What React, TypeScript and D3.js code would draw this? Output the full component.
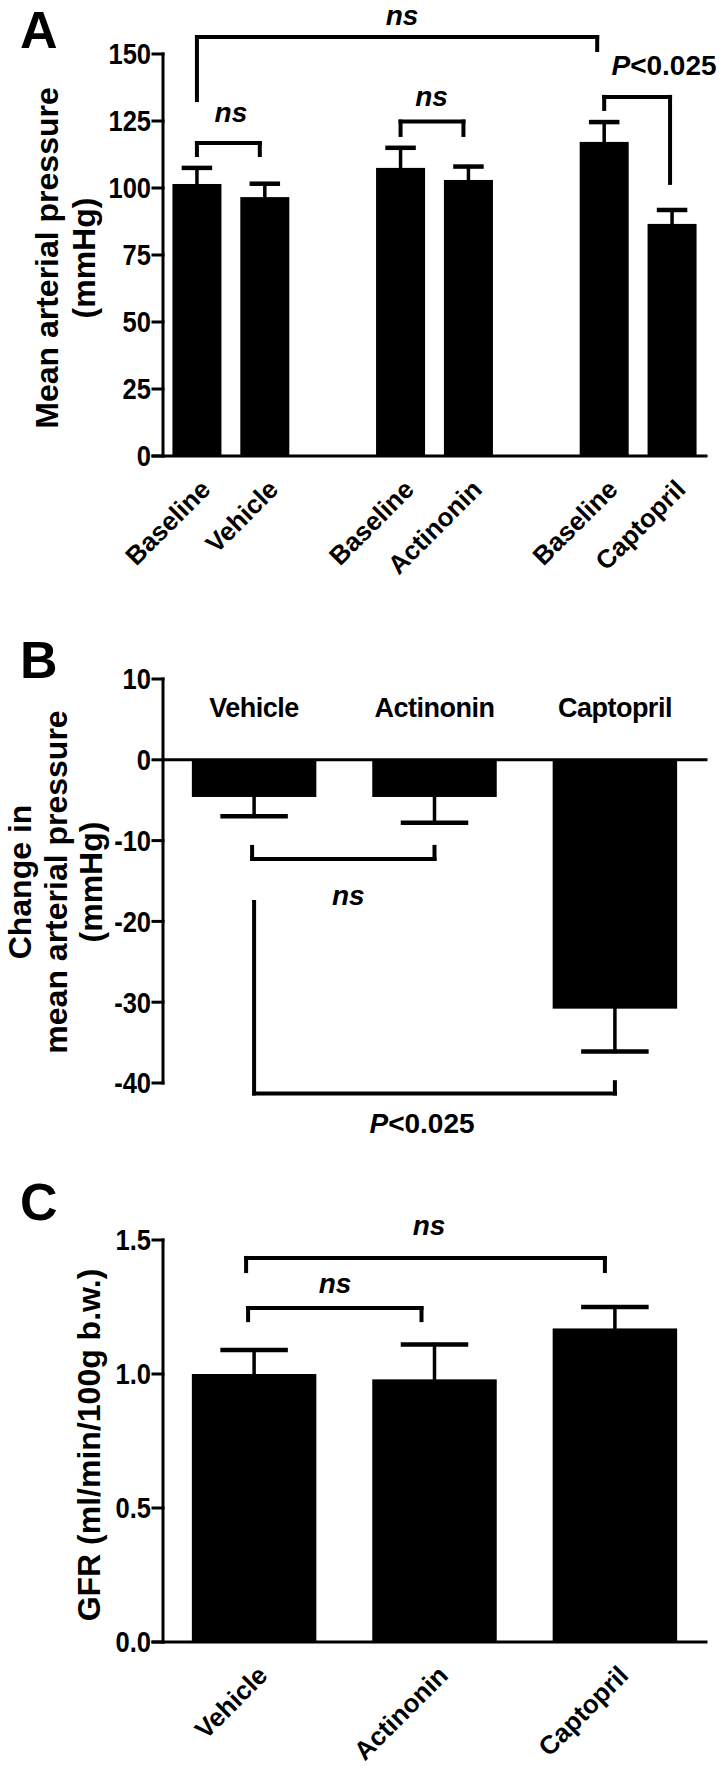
import React, { useEffect, useRef } from 'react';
import * as d3 from 'd3';

// Panel A - mean arterial pressure before / after treatment
const labelsA = ['Baseline', 'Vehicle', 'Baseline', 'Actinonin', 'Baseline', 'Captopril'];
const slotsA = [0, 1, 3, 4, 6, 7];
const meanA = [101.5, 96.6, 107.5, 103, 117.2, 86.6];
const semA = [6, 5, 7.5, 5, 7.4, 5.2];
const ticksA = [0, 25, 50, 75, 100, 125, 150];

// Panel B - change in mean arterial pressure
const labelsB = ['Vehicle', 'Actinonin', 'Captopril'];
const meanB = [-4.6, -4.6, -30.8];
const semB = [2.4, 3.2, 5.3];
const ticksB = [10, 0, -10, -20, -30, -40];

// Panel C - GFR
const labelsC = ['Vehicle', 'Actinonin', 'Captopril'];
const meanC = [1.0, 0.98, 1.17];
const semC = [0.09, 0.13, 0.08];
const ticksC = [0, 0.5, 1.0, 1.5];

const FONT = '"Liberation Sans", Arial, sans-serif';

const App = () => {
    const svgRef = useRef<SVGSVGElement | null>(null);

    useEffect(() => {
        const width = 720;
        const height = 1772;
        const left = 163;
        const right = 706;

        const svg = d3.select(svgRef.current);
        svg.selectAll('*').remove();
        svg.attr('width', width).attr('height', height);

        const line = (g, x1, y1, x2, y2, sw = 3.5) => {
            g.append('line')
                .attr('x1', x1).attr('y1', y1).attr('x2', x2).attr('y2', y2)
                .attr('stroke', '#000').attr('stroke-width', sw)
                .attr('stroke-linecap', 'square');
        };

        const yAxis = (y, ticks, fmt) => {
            const g = svg.append('g');
            line(g, left, y(ticks[0]), left, y(ticks[ticks.length - 1]), 3);
            ticks.forEach(t => {
                line(g, left - 10, y(t), left, y(t), 3);
                // narrow bold digits, like the original figure
                g.append('text')
                    .attr('transform', `translate(${left - 12}, ${y(t)}) scale(0.88, 1)`)
                    .attr('dy', '0.36em')
                    .attr('text-anchor', 'end')
                    .style('font-family', FONT)
                    .style('font-weight', 'bold')
                    .style('font-size', '29px')
                    .text(fmt(t));
            });
        };

        const yTitle = (lines, xs, yc) => {
            lines.forEach((s, i) => {
                svg.append('text')
                    .attr('transform', `translate(${xs[i]}, ${yc}) rotate(-90)`)
                    .attr('text-anchor', 'middle')
                    .attr('dominant-baseline', 'central')
                    .style('font-family', FONT)
                    .style('font-weight', 'bold')
                    .style('font-size', '32px')
                    .text(s);
            });
        };

        const panelLetter = (s, y) => {
            svg.append('text')
                .attr('x', 20).attr('y', y)
                .style('font-family', FONT)
                .style('font-weight', 'bold')
                .style('font-size', '52px')
                .text(s);
        };

        const sig = (x, y, txt, italicAll = true) => {
            const t = svg.append('text')
                .attr('x', x).attr('y', y)
                .attr('text-anchor', 'middle')
                .style('font-family', FONT)
                .style('font-weight', 'bold')
                .style('font-size', '28px');
            if (italicAll) {
                t.style('font-style', 'italic').text(txt);
            } else {
                t.append('tspan').style('font-style', 'italic').text('P');
                t.append('tspan').text(txt);
            }
        };

        const bracket = (x1, x2, yH, y1, y2) => {
            const g = svg.append('g');
            line(g, x1, yH, x2, yH, 4);
            line(g, x1, yH, x1, y1, 4);
            line(g, x2, yH, x2, y2, 4);
        };

        const errBar = (cx, yFrom, yTo, cap) => {
            line(svg, cx, yFrom, cx, yTo, 3.5);
            line(svg, cx - cap / 2, yTo, cx + cap / 2, yTo, 4.5);
        };

        const rotLabels = (xs, labels, yAxisPos) => {
            labels.forEach((s, i) => {
                svg.append('text')
                    .attr('transform', `translate(${xs[i] + 15}, ${yAxisPos + 35}) rotate(-45)`)
                    .attr('text-anchor', 'end')
                    .style('font-family', FONT)
                    .style('font-weight', 'bold')
                    .style('font-size', '26px')
                    .text(s);
            });
        };

        // ---------- Panel A ----------
        const yA = d3.scaleLinear().domain([0, 150]).range([456, 54]);
        const xA = d3.scaleLinear().domain([-0.5, 7.5]).range([left, right]);
        const bwA = 49;

        panelLetter('A', 48);
        yTitle(['Mean arterial pressure', '(mmHg)'], [47, 84], 258);

        meanA.forEach((v, i) => {
            const cx = xA(slotsA[i]);
            errBar(cx, yA(v), yA(v + semA[i]), 26);
            svg.append('rect')
                .attr('x', cx - bwA / 2).attr('y', yA(v))
                .attr('width', bwA).attr('height', yA(0) - yA(v))
                .attr('fill', '#000');
        });
        yAxis(yA, ticksA, d => `${d}`);
        line(svg, left - 10, yA(0), right, yA(0), 3);
        rotLabels(slotsA.map(s => xA(s)), labelsA, yA(0));

        bracket(xA(0), xA(1) - 5, yA(116.8), yA(112.3), yA(112.3));
        sig((xA(0) + xA(1)) / 2, yA(124.5), 'ns');
        bracket(xA(3), xA(4) - 5, yA(124.8), yA(119.8), yA(119.8));
        sig((xA(3) + xA(4)) / 2 - 3, yA(130.6), 'ns');
        bracket(xA(0), xA(6) - 7, yA(156.3), yA(132.8), yA(151.5));
        sig(402, yA(161), 'ns');
        bracket(xA(6), xA(7) - 2, yA(134), yA(129.5), yA(101.9));
        sig(664, yA(142), '<0.025', false);

        // ---------- Panel B ----------
        const yB = d3.scaleLinear().domain([10, -40]).range([679, 1083]);
        const xB = d3.scaleBand().domain(labelsB).range([left, right]).paddingInner(0.31).paddingOuter(0.16);

        panelLetter('B', 678);
        yTitle(['Change in', 'mean arterial pressure', '(mmHg)'], [20, 56, 91], 882);

        meanB.forEach((v, i) => {
            const x0 = xB(labelsB[i]);
            const cx = x0 + xB.bandwidth() / 2;
            errBar(cx, yB(v), yB(v - semB[i]), 63);
            svg.append('rect')
                .attr('x', x0).attr('y', yB(0))
                .attr('width', xB.bandwidth()).attr('height', yB(v) - yB(0))
                .attr('fill', '#000');
            svg.append('text')
                .attr('x', cx).attr('y', 717)
                .attr('text-anchor', 'middle')
                .style('font-family', FONT)
                .style('font-weight', 'bold')
                .style('font-size', '27px')
                .style('letter-spacing', '-0.5px')
                .text(labelsB[i]);
        });
        yAxis(yB, ticksB, d => `${d}`);
        line(svg, left, yB(0), right, yB(0), 3);

        const cB = labelsB.map(s => xB(s) + xB.bandwidth() / 2);
        bracket(cB[0] - 2, cB[1], yB(-12.27), yB(-10.78), yB(-10.78));
        sig((cB[0] + cB[1]) / 2 + 4, yB(-17.97), 'ns');
        bracket(cB[0], cB[2], yB(-41.3), yB(-17.6), yB(-39.9));
        sig(422, yB(-46.2), '<0.025', false);

        // ---------- Panel C ----------
        const yC = d3.scaleLinear().domain([0, 1.5]).range([1642, 1240]);
        const xC = d3.scaleBand().domain(labelsC).range([left, right]).paddingInner(0.31).paddingOuter(0.16);

        panelLetter('C', 1220);
        yTitle(['GFR (ml/min/100g b.w.)'], [89], 1445);

        meanC.forEach((v, i) => {
            const x0 = xC(labelsC[i]);
            const cx = x0 + xC.bandwidth() / 2;
            errBar(cx, yC(v), yC(v + semC[i]), 63);
            svg.append('rect')
                .attr('x', x0).attr('y', yC(v))
                .attr('width', xC.bandwidth()).attr('height', yC(0) - yC(v))
                .attr('fill', '#000');
        });
        yAxis(yC, ticksC, d => d3.format('.1f')(d));
        line(svg, left - 10, yC(0), right, yC(0), 3);
        const cC = labelsC.map(s => xC(s) + xC.bandwidth() / 2);
        rotLabels(cC, labelsC, yC(0));

        bracket(cC[0] - 8, cC[2] - 10, yC(1.433), yC(1.384), yC(1.384));
        sig(429, yC(1.519), 'ns');
        bracket(cC[0] - 6, cC[1] - 13, yC(1.246), yC(1.201), yC(1.201));
        sig(335, yC(1.302), 'ns');
    }, []);

    return (
        <div style={{ position: 'absolute', left: 0, top: 0, width: 720, height: 1772, background: '#fff' }}>
            <svg ref={svgRef} style={{ display: 'block' }}></svg>
        </div>
    );
};

export default App;
